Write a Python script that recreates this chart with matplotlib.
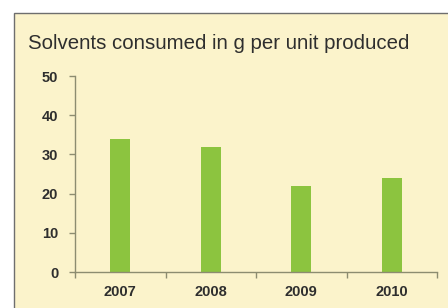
import matplotlib
matplotlib.use("Agg")
import matplotlib.pyplot as plt
from matplotlib.patches import Rectangle

# data
years = ["2007", "2008", "2009", "2010"]
solvents = [34, 32, 22, 24]
y_ticks = [0, 10, 20, 30, 40, 50]

bg = "#fbf3cb"
bar_color = "#8cc43f"
axis_color = "#8c8c70"
text_color = "#2e2e2e"

plt.rcParams["font.family"] = ["Liberation Sans", "DejaVu Sans"]

fig = plt.figure(figsize=(4.48, 3.08), dpi=100)
fig.patch.set_facecolor("white")

# pale panel with a thin grey border on top and left
W, H = 448, 308
panel = Rectangle((14 / W, -0.05), 1.1, (H - 13) / H + 0.05,
                  transform=fig.transFigure, facecolor=bg,
                  edgecolor="#6e6e6e", linewidth=1.0, zorder=-5)
fig.add_artist(panel)

fig.text(28 / W, 1 - 49 / H, "Solvents consumed in g per unit produced",
         fontsize=14.7, color=text_color, ha="left", va="baseline")

ax = fig.add_axes([75 / W, 36 / H, (437 - 75) / W, 196 / H])
ax.set_facecolor("none")

x = list(range(len(years)))
ax.bar(x, solvents, width=0.22, color=bar_color, zorder=2)

ax.set_xlim(-0.5, len(years) - 0.5)
ax.set_ylim(0, 50)
ax.set_yticks(y_ticks)
ax.set_xticks(x)
ax.set_xticklabels(years)
ax.set_xticks([i - 0.5 for i in range(len(years) + 1)], minor=True)

for s in ["top", "right"]:
    ax.spines[s].set_visible(False)
for s in ["left", "bottom"]:
    ax.spines[s].set_color(axis_color)
    ax.spines[s].set_linewidth(1.0)

ax.tick_params(axis="y", length=4, width=1, color=axis_color, pad=8,
               labelsize=10.5, labelcolor=text_color)
ax.tick_params(axis="x", which="major", length=0, pad=9,
               labelsize=10.5, labelcolor=text_color)
ax.tick_params(axis="x", which="minor", length=4, width=1, color=axis_color)
for lbl in ax.get_xticklabels() + ax.get_yticklabels():
    lbl.set_fontweight("bold")

fig.savefig("out.png", dpi=100)
